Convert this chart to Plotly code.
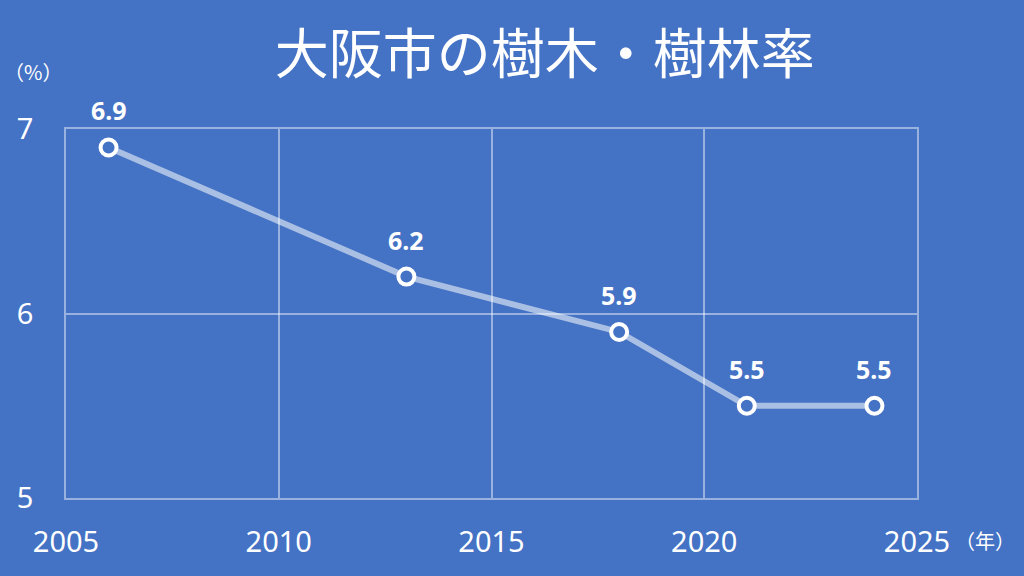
import plotly.graph_objects as go

# 大阪市の樹木・樹林率 (%)
years = [2006, 2013, 2018, 2021, 2024]
rates = [6.9, 6.2, 5.9, 5.5, 5.5]
xticks = [2005, 2010, 2015, 2020, 2025]
yticks = [5, 6, 7]

bg = "#4472C4"
grid = "rgba(255,255,255,0.45)"

fig = go.Figure()
fig.add_trace(go.Scatter(
    x=years, y=rates,
    mode="lines+markers",
    line=dict(color="rgba(255,255,255,0.55)", width=6),
    marker=dict(symbol="circle", size=16, color=bg, line=dict(color="white", width=4)),
    cliponaxis=False,
    showlegend=False,
))

# value labels above each point
for x, y in zip(years, rates):
    fig.add_annotation(x=x, y=y, text="<b>%s</b>" % y, showarrow=False,
                       yshift=37, font=dict(family="Noto Sans", size=25, color="white"))

fig.update_layout(
    width=1024, height=576,
    paper_bgcolor=bg, plot_bgcolor=bg,
    margin=dict(l=66, r=107, t=129, b=78),
    font=dict(family="Noto Sans", color="white"),
    title=dict(
        text="大阪市の樹木・樹林率",
        font=dict(family="Noto Sans CJK JP", size=54, color="white"),
        x=0.532, xanchor="center", y=0.905, yanchor="middle",
    ),
    xaxis=dict(
        range=[2005, 2025], tickvals=xticks,
        showgrid=True, gridcolor=grid, gridwidth=1.5,
        showline=True, mirror=True, linecolor=grid, linewidth=1.5,
        zeroline=False, ticks="", ticklabelstandoff=17,
        tickfont=dict(family="Noto Sans", size=29, color="white"),
    ),
    yaxis=dict(
        range=[5, 7], tickvals=yticks,
        showgrid=True, gridcolor=grid, gridwidth=1.5,
        showline=True, mirror=True, linecolor=grid, linewidth=1.5,
        zeroline=False, ticks="", ticklabelstandoff=25,
        tickfont=dict(family="Noto Sans", size=29, color="white"),
    ),
)

# unit labels, positioned in pixels then converted to paper coords
pw, ph = 1024 - 66 - 107, 576 - 129 - 78
for txt, px_, py_ in [("（%）", 33, 72), ("（年）", 985, 540)]:
    fig.add_annotation(text=txt, x=(px_ - 66) / pw, y=1 - (py_ - 129) / ph,
                       xref="paper", yref="paper", xanchor="center", yanchor="middle",
                       showarrow=False, font=dict(family="Noto Sans CJK JP", size=20, color="white"))

fig.write_html("out.html", config={"displayModeBar": False},
               post_script="document.body.style.margin='0';")
